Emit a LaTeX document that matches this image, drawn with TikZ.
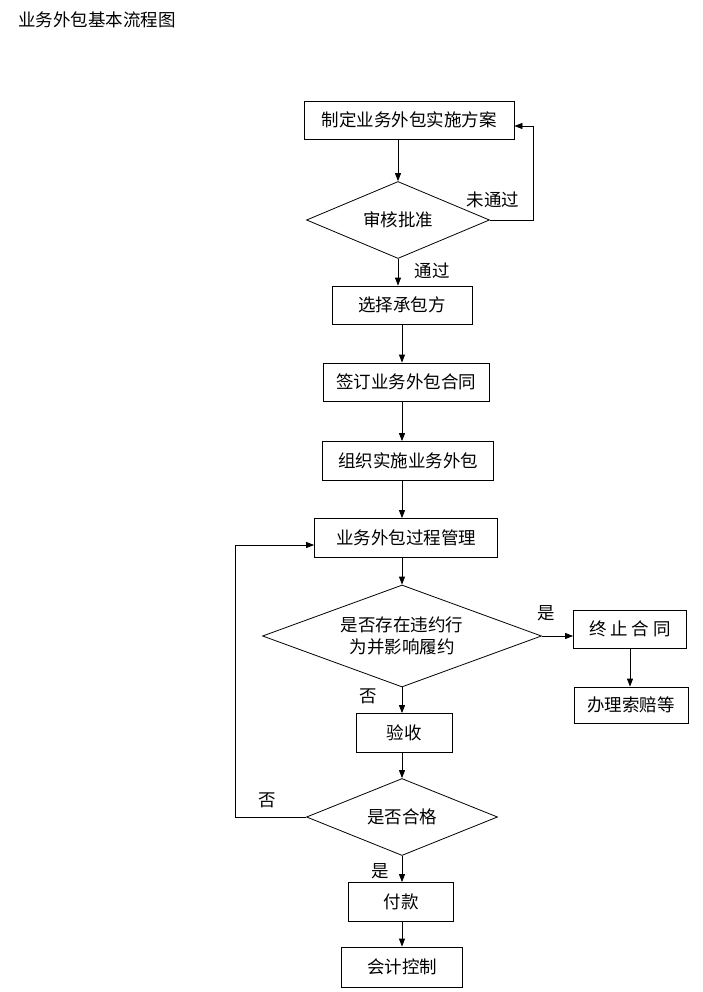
\documentclass[tikz,border=0pt]{standalone}
\usepackage{fontspec}
\setmainfont{Noto Sans CJK SC}
\usetikzlibrary{
    arrows.meta,
    shapes.geometric
}

\begin{document}
\begin{tikzpicture}[x=1pt,y=-1pt,
    font=\fontsize{17.5}{22}\selectfont,
    box/.style={draw,line width=0.8pt,minimum height=38pt,inner sep=0pt},
    decide/.style={draw,diamond,line width=0.8pt,inner sep=0pt,align=center},
    flow/.style={line width=0.8pt,-{Triangle[length=8pt,width=6pt]}},
    tag/.style={inner sep=0pt}
]
\useasboundingbox (0,0) rectangle (702,992);

% Title
\node[tag,anchor=west] (title) at (18,20) {业务外包基本流程图};

% Boxes and decisions
\node[box,minimum width=210pt] (plan) at (409,120) {制定业务外包实施方案};
\node[decide,minimum width=183pt,minimum height=77pt,aspect=2.4] (review) at (398,220) {审核批准};
\node[box,minimum width=140pt] (choose) at (402,305) {选择承包方};
\node[box,minimum width=166pt] (sign) at (406,382) {签订业务外包合同};
\node[box,minimum width=171pt,minimum height=39pt] (organize) at (408,461) {组织实施业务外包};
\node[box,minimum width=183pt,minimum height=39pt] (manage) at (406,538) {业务外包过程管理};
\node[decide,minimum width=279pt,minimum height=102pt,aspect=2.7] (breach) at (402,636) {是否存在违约行\\为并影响履约};
\node[box,minimum width=113pt] (stop) at (630,629) {终 止 合 同};
\node[box,minimum width=114pt,minimum height=36pt] (claim) at (631,705) {办理索赔等};
\node[box,minimum width=96pt,minimum height=39pt] (accept) at (404,733) {验收};
\node[decide,minimum width=191pt,minimum height=77pt,aspect=2.5] (qualified) at (402,817) {是否合格};
\node[box,minimum width=105pt,minimum height=39pt] (pay) at (401,902) {付款};
\node[box,minimum width=121pt,minimum height=40pt] (control) at (402,967) {会计控制};

% Loop points
\coordinate (backA) at (533,126);
\coordinate (backB) at (235,545);

% Connectors
\draw[flow] (review.north |- plan.south) -- (review.north);
\draw[flow] (review.east) -| (backA) -- (backA -| plan.east);
\draw[flow] (review.south) -- (review.south |- choose.north);
\draw[flow] (choose.south) -- (choose.south |- sign.north);
\draw[flow] (choose.south |- sign.south) -- (choose.south |- organize.north);
\draw[flow] (breach.north |- organize.south) -- (breach.north |- manage.north);
\draw[flow] (breach.north |- manage.south) -- (breach.north);
\draw[flow] (breach.east) -- (breach.east -| stop.west);
\draw[flow] (stop.south) -- (stop.south |- claim.north);
\draw[flow] (breach.south) -- (breach.south |- accept.north);
\draw[flow] (qualified.north |- accept.south) -- (qualified.north);
\draw[flow] (qualified.west) -| (backB) -- (backB -| manage.west);
\draw[flow] (qualified.south) -- (qualified.south |- pay.north);
\draw[flow] (qualified.south |- pay.south) -- (qualified.south |- control.north);

% Labels
\node[tag] (lbfail) at (493,200) {未通过};
\node[tag] (lbpass) at (432,271) {通过};
\node[tag] (lbyesA) at (546,613) {是};
\node[tag] (lbnoA) at (368,696) {否};
\node[tag] (lbnoB) at (267,800) {否};
\node[tag] (lbyesB) at (380,871) {是};

\end{tikzpicture}
\end{document}
